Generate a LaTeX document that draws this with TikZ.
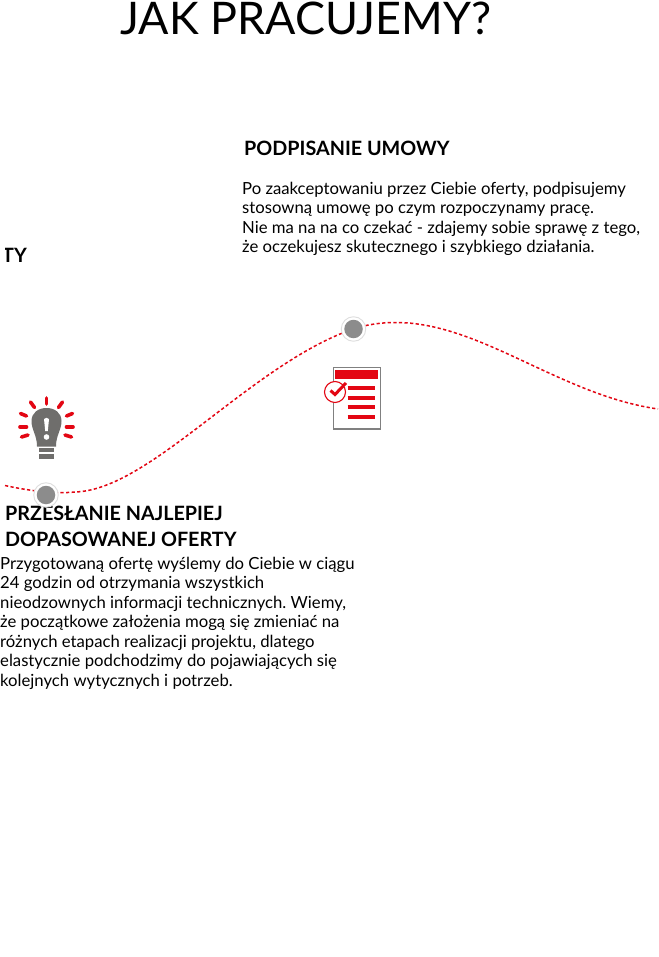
\documentclass[tikz,border=0pt]{standalone}
\usepackage{fontspec}
\setmainfont{Lato}
\definecolor{brand}{HTML}{E30613}
\definecolor{dotgray}{HTML}{8C8C8C}
\definecolor{bulb}{HTML}{6F6E6C}
\frenchspacing
\tikzset{
  headline/.style={anchor=base west,inner sep=0pt,font=\fontsize{19.75}{24}\selectfont\bfseries,align=left},
  bodytext/.style={anchor=base west,inner sep=0pt,font=\fontsize{16.7}{19.5}\selectfont,align=left},
  pin/.style={circle,fill=dotgray,minimum size=18.5pt,inner sep=0pt},
  pinhalo/.style={circle,fill=white,draw=black!13,line width=.9pt,minimum size=24.5pt,inner sep=0pt},
  ray/.style={brand,line width=3.6pt,line cap=round},
  docline/.style={brand,line width=4pt}
}
\begin{document}
\begin{tikzpicture}[x=1pt,y=-1pt]
\useasboundingbox (0,0) rectangle (658,957);
\fill[white] (0,0) rectangle (658,957);
\node[anchor=base west,inner sep=0pt,font=\fontsize{44.9}{54}\selectfont] (title) at (120,35) {JAK PRACUJEMY?};
\begin{scope}
\clip (5,240) rectangle (60,275);
\node[headline] (cut) at (2,262) {TY};
\end{scope}
\node[headline] (h1) at (244,155.5) {PODPISANIE UMOWY};
\node[bodytext] (b1l1) at (242,194.5) {Po zaakceptowaniu przez Ciebie oferty, podpisujemy};
\node[bodytext] (b1l2) at (242,214) {stosowną umowę po czym rozpoczynamy pracę.};
\node[bodytext] (b1l3) at (242,233.5) {Nie ma na na co czekać - zdajemy sobie sprawę z tego,};
\node[bodytext] (b1l4) at (242,253) {że oczekujesz skutecznego i szybkiego działania.};
\node[headline] (h2l1) at (5,520) {PRZESŁANIE NAJLEPIEJ};
\node[headline] (h2l2) at (5,546) {DOPASOWANEJ OFERTY};
\node[bodytext] (b2l1) at (0,569) {Przygotowaną ofertę wyślemy do Ciebie w ciągu};
\node[bodytext] (b2l2) at (0,588) {24 godzin od otrzymania wszystkich};
\node[bodytext] (b2l3) at (0,608) {nieodzownych informacji technicznych. Wiemy,};
\node[bodytext] (b2l4) at (0,627) {że początkowe założenia mogą się zmieniać na};
\node[bodytext] (b2l5) at (0,647) {różnych etapach realizacji projektu, dlatego};
\node[bodytext] (b2l6) at (0,666) {elastycznie podchodzimy do pojawiających się};
\node[bodytext] (b2l7) at (0,686) {kolejnych wytycznych i potrzeb.};
% curve
\coordinate (c0) at (5,485.5);
\coordinate (c1) at (75,492);
\coordinate (c2) at (353,329);
\coordinate (c3) at (395,322.5);
\coordinate (c4) at (658,409);
\draw[brand,line width=1.5pt,dash pattern=on 3.2pt off 2.4pt]
  (c0) .. controls (30,491) and (55,494) .. (c1)
  .. controls (150,490) and (250,365) .. (c2)
  .. controls (365,325) and (380,322.5) .. (c3)
  .. controls (480,322) and (560,395) .. (c4);
\node[pinhalo] (s1) at (46,495) {};
\node[pinhalo] (s2) at (353.5,329) {};
\node[pin] (p1) at (46,495) {};
\node[pin] (p2) at (353.5,329) {};
% bulb
\fill[bulb] (37,446.5) .. controls (37,435) and (31.5,430) .. (31.5,421)
  .. controls (31.5,413) and (38,408) .. (46.5,408)
  .. controls (55,408) and (61.5,413) .. (61.5,421)
  .. controls (61.5,430) and (56,435) .. (56,446.5) -- cycle;
\fill[bulb] (39,448) rectangle (54,452);
\fill[bulb] (39,454) rectangle (54,459);
\fill[white] (45.2,431) -- (44,419) .. controls (45,417.5) and (48,417.5) .. (49,419) -- (47.8,431) -- cycle;
\fill[white] (46.5,437) circle (2.8);
\draw[ray] (46.5,398) -- (46.5,404);
\draw[ray] (30.5,402) -- (34.5,407.5);
\draw[ray] (62.5,402) -- (58.5,407.5);
\draw[ray] (20.5,413.5) -- (26.5,416);
\draw[ray] (72.5,413.5) -- (66.5,416);
\draw[ray] (20,427) -- (26.5,427);
\draw[ray] (73,427) -- (66.5,427);
\draw[ray] (21.5,437) -- (28,435);
\draw[ray] (71.5,437) -- (65,435);
% document
\draw[black!50,fill=white,line width=1.4pt] (333.5,367.5) rectangle (380.5,429);
\fill[brand] (335,370) rectangle (378,378.5);
\draw[docline] (347.5,388) -- (375,388);
\draw[docline] (347.5,397.5) -- (375,397.5);
\draw[docline] (347.5,407) -- (375,407);
\draw[docline] (347.5,416.5) -- (375,416.5);
\draw[brand,fill=white,line width=1.1pt] (335,392) circle (10.5);
\draw[brand,line width=3pt] (330.5,390.5) -- (335,394.5) -- (346,383);
\end{tikzpicture}
\end{document}
